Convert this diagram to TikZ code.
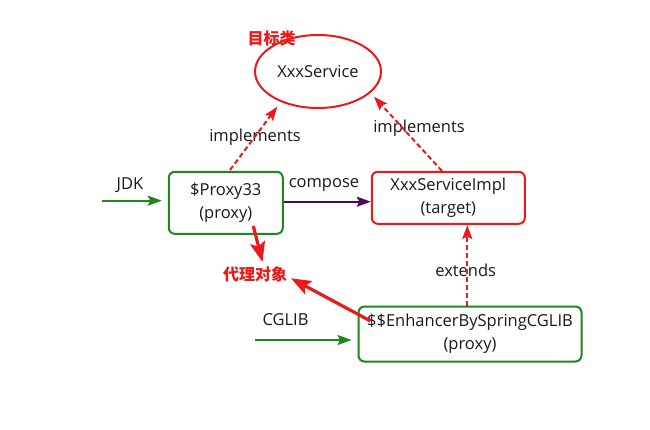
\documentclass[tikz,border=0pt]{standalone}
\usepackage{fontspec}
\setmainfont{Open Sans}
\newfontfamily\cjk{Noto Sans CJK SC}
\usetikzlibrary{arrows.meta,shapes.geometric}
\definecolor{gbox}{RGB}{30,135,30}
\definecolor{rbox}{RGB}{235,25,25}
\definecolor{purp}{RGB}{75,10,90}
\tikzset{
  txt/.style={font=\fontsize{16.5}{23}\selectfont, text=black!90, align=center, inner sep=0pt},
  cjklabel/.style={font=\cjk\bfseries\fontsize{16}{18}\selectfont, text=rbox, inner sep=1pt},
  greenbox/.style={draw=gbox, line width=2pt, rounded corners=6pt, txt},
  redbox/.style={draw=rbox, line width=2pt, rounded corners=6pt, txt},
  tip/.style={-{Stealth[length=14pt,width=10pt,inset=2.5pt]}},
  garrow/.style={tip, draw=gbox, line width=2pt},
  parrow/.style={tip, draw=purp, line width=2.2pt},
  dasharrow/.style={tip, draw=rbox, line width=2pt, dash pattern=on 5pt off 3pt},
  redarrow/.style={-{Stealth[length=20pt,width=15pt,inset=4pt]}, draw=rbox, line width=3.2pt},
}
\begin{document}
\begin{tikzpicture}[x=1pt,y=-1pt]
\useasboundingbox (0,0) rectangle (650,430);
\fill[white] (0,0) rectangle (650,430);

\node[ellipse, draw=rbox, line width=2pt, minimum width=126pt, minimum height=73pt, txt] (svc) at (318,71.5) {XxxService};
\node[cjklabel] (mubiao) at (271.5,38.5) {目标类};

\node[greenbox, minimum width=114pt, minimum height=62pt] (proxy) at (225.8,202.8) {\$Proxy33\\(proxy)};
\node[redbox, minimum width=153pt, minimum height=52pt] (impl) at (448.3,197.8) {XxxServiceImpl\\(target)};
\node[greenbox, minimum width=223pt, minimum height=55pt] (enh) at (470,334) {\$\$EnhancerBySpringCGLIB\\(proxy)};

\node[cjklabel] (daili) at (255,274) {代理对象};

\node[txt] (jdk) at (130,185) {JDK};
\node[txt] (compose) at (324,185) {compose};
\node[txt] (impl1) at (255,137) {implements};
\node[txt] (impl2) at (419,128) {implements};
\node[txt] (ext) at (465.7,270) {extends};
\node[txt] (cglib) at (285.5,320) {CGLIB};

\coordinate (jdkstart) at (101.5,200.7);
\coordinate (cglibstart) at (255,340);
\coordinate (lstart) at (230,170);
\coordinate (ltip) at (277.3,106.7);
\coordinate (rstart) at (442,171);
\coordinate (rtip) at (374,96.7);
\coordinate (extstart) at (467.3,306);
\coordinate (exttip) at (467.3,225);
\coordinate (p1) at (253.3,226);
\coordinate (p1tip) at (262.5,262);
\coordinate (e1) at (370.5,321);
\coordinate (e1tip) at (291,278.3);

\draw[garrow] (jdkstart) -- ([xshift=-6pt]proxy.west |- jdkstart);
\draw[garrow] (cglibstart) -- ([xshift=-6pt]enh.west |- cglibstart);
\draw[parrow] (proxy.east |- 0,201.7) -- (impl.west |- 0,201.7);
\draw[dasharrow] (lstart) -- (ltip);
\draw[dasharrow] (rstart) -- (rtip);
\draw[dasharrow] (extstart) -- (exttip);
\draw[redarrow] (p1) -- (p1tip);
\draw[redarrow] (e1) -- (e1tip);
\end{tikzpicture}
\end{document}
